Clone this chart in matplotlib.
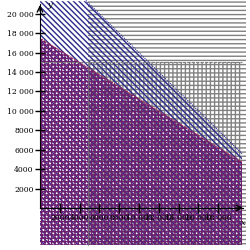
import matplotlib
matplotlib.use("Agg")
import matplotlib.pyplot as plt
import numpy as np

# constraint data
x_min_line = 4800          # vertical boundary x >= 4800
y_max_line = 15000         # horizontal boundary y <= 15000
blue_sum = 26000           # x + y <= 26000
purple_a, purple_b, purple_c = 5, 8, 140000   # 5x + 8y <= 140000
x_right = 20400
y_bottom = -3800
y_top = 21300

x_ticks = [2000, 4000, 6000, 8000, 10000, 12000, 14000, 16000, 18000]
y_ticks = [2000, 4000, 6000, 8000, 10000, 12000, 14000, 16000, 18000, 20000]

gray = "#808080"
navy = "#2a2a8c"
purple = "#6e1e6e"


def fmt(v):
    s = str(v)
    if v >= 10000:
        s = s[:-3] + " " + s[-3:]
    return s


plt.rcParams['font.family'] = ['DejaVu Serif']
plt.rcParams['hatch.linewidth'] = 1.0

fig = plt.figure(figsize=(2.5, 2.5), dpi=100)
ax = fig.add_axes([0, 0, 1, 1])
ax.set_xlim(-4040, 21210)
ax.set_ylim(-4326, 21424)

# gray horizontal lines: x >= 4800
ax.fill_between([x_min_line, 20800], y_bottom, y_top, facecolor="none",
                edgecolor=gray, hatch="----", linewidth=0)
# gray vertical lines: y <= 15000
ax.fill_between([x_min_line, x_right], y_bottom, y_max_line, facecolor="none",
                edgecolor=gray, hatch="||||", linewidth=0)

# blue diagonal region x + y <= 26000
xs = np.linspace(0, x_right, 50)
ax.fill_between(xs, y_bottom, np.minimum(blue_sum - xs, y_top), facecolor="none",
                edgecolor=navy, hatch="\\\\\\\\\\\\", linewidth=0)

# purple checker region 5x + 8y <= 140000
ax.fill_between(xs, y_bottom, (purple_c - purple_a * xs) / purple_b, facecolor="none",
                edgecolor=purple, hatch="+++++", linewidth=0)

# boundary lines
ax.plot([x_min_line, x_min_line], [y_bottom, y_max_line], color=gray, lw=0.8, alpha=0.7)
ax.plot([0, x_right], [y_max_line, y_max_line], color=gray, lw=0.8, ls=(0, (3, 1)))
ax.plot(xs, blue_sum - xs, color=navy, lw=0.8, ls=(0, (1, 1)))
ax.plot(xs, (purple_c - purple_a * xs) / purple_b, color="#b03050", lw=0.8, ls=(0, (1, 1)))

# axes through the origin
for s in ["top", "right"]:
    ax.spines[s].set_visible(False)
ax.spines["left"].set_position(("data", 0))
ax.spines["bottom"].set_position(("data", 0))
ax.spines["left"].set_bounds(0, 21000)
ax.spines["bottom"].set_bounds(0, 20500)
ax.annotate("", xy=(0, 21200), xytext=(0, 20000),
            arrowprops=dict(arrowstyle="->", lw=1, color="black"))
ax.annotate("", xy=(20800, 0), xytext=(19500, 0),
            arrowprops=dict(arrowstyle="->", lw=1, color="black"))

ax.set_xticks(x_ticks)
ax.set_xticklabels([fmt(v) for v in x_ticks])
ax.set_yticks(y_ticks)
ax.set_yticklabels([fmt(v) for v in y_ticks])
ax.tick_params(direction="inout", length=7, width=1, labelsize=5.5, pad=1)

ax.text(700, 20700, "y", fontsize=6, style="italic")
ax.text(20300, -1700, "x", fontsize=6, style="italic")

fig.savefig("out.png", dpi=100)
